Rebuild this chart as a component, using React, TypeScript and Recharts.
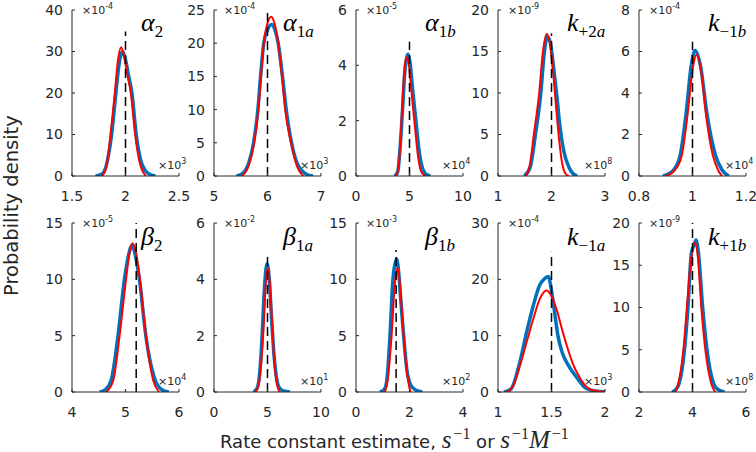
import { LineChart, Line, XAxis, YAxis } from 'recharts';

type Pt = [number, number];

// density curves, in axis units (x scaled by ×10^n, y by ×10^m)
const a2Blue: Pt[] = [[1.72, 0], [1.78, 0.5], [1.82, 2.5], [1.87, 10], [1.91, 20], [1.94, 27], [1.97, 30], [2.0, 28], [2.03, 24], [2.06, 20], [2.1, 10], [2.14, 4], [2.18, 1.5], [2.22, 0.5], [2.28, 0]];
const a2Red: Pt[] = [[1.78, 0], [1.82, 2], [1.86, 10], [1.9, 20], [1.93, 28], [1.96, 31], [1.99, 28.5], [2.02, 24], [2.05, 20], [2.09, 10], [2.13, 3.5], [2.19, 0]];

const a1aBlue: Pt[] = [[5.42, 0], [5.55, 0.5], [5.65, 2], [5.74, 5], [5.82, 10], [5.87, 15], [5.93, 20], [6.0, 22], [6.08, 22.8], [6.14, 22], [6.2, 20], [6.28, 15], [6.35, 10], [6.45, 5], [6.55, 2], [6.7, 0.4], [6.85, 0]];
const a1aRed: Pt[] = [[5.52, 0], [5.62, 1], [5.75, 5], [5.83, 10], [5.88, 15], [5.93, 20], [6.0, 23], [6.07, 24], [6.13, 23], [6.2, 20], [6.27, 15], [6.33, 10], [6.44, 5], [6.55, 1.5], [6.67, 0]];

const a1bBlue: Pt[] = [[3.6, 0], [3.9, 0.15], [4.1, 0.9], [4.32, 2.2], [4.55, 3.7], [4.75, 4.3], [4.87, 4.4], [5.05, 4.1], [5.3, 3.1], [5.6, 2], [5.9, 0.9], [6.2, 0.3], [6.5, 0.08], [6.95, 0]];
const a1bRed: Pt[] = [[3.75, 0], [4.0, 0.4], [4.2, 1.6], [4.4, 3.1], [4.6, 4.1], [4.77, 4.3], [4.95, 4.0], [5.2, 3.0], [5.5, 1.8], [5.8, 0.7], [6.1, 0.15], [6.5, 0]];

const kp2aBlue: Pt[] = [[1.49, 0], [1.6, 1], [1.7, 5], [1.8, 10], [1.86, 14.5], [1.92, 16.8], [1.98, 16], [2.04, 13], [2.11, 9], [2.14, 7], [2.23, 3], [2.33, 1], [2.4, 0.3], [2.48, 0]];
const kp2aRed: Pt[] = [[1.52, 0], [1.6, 1.5], [1.67, 5], [1.77, 10], [1.84, 15], [1.91, 17.1], [1.97, 16], [2.03, 12.5], [2.09, 8], [2.14, 4.5], [2.2, 1.5], [2.26, 0.3], [2.32, 0]];

const km1bBlue: Pt[] = [[0.89, 0], [0.93, 0.3], [0.954, 1], [0.976, 3], [0.995, 5.3], [1.01, 6.05], [1.03, 5.3], [1.054, 3], [1.086, 1], [1.11, 0.3], [1.136, 0]];
const km1bRed: Pt[] = [[0.9, 0], [0.935, 0.3], [0.96, 1], [0.982, 3], [1.0, 5.1], [1.016, 5.85], [1.033, 5.0], [1.05, 3], [1.076, 1], [1.095, 0.3], [1.11, 0]];

const b2Blue: Pt[] = [[4.52, 0], [4.62, 0.2], [4.73, 1], [4.86, 5], [4.98, 10], [5.05, 12], [5.12, 13], [5.19, 12], [5.26, 10], [5.38, 5], [5.56, 1], [5.68, 0.2], [5.81, 0]];
const b2Red: Pt[] = [[4.64, 0], [4.77, 1], [4.89, 5], [5.01, 10], [5.08, 12.5], [5.13, 13.2], [5.2, 12.3], [5.27, 10], [5.38, 5], [5.52, 1], [5.63, 0]];

const b1aBlue: Pt[] = [[3.7, 0], [4.05, 0.15], [4.3, 0.8], [4.5, 2], [4.7, 3.6], [4.95, 4.55], [5.15, 4.1], [5.35, 2.8], [5.55, 1.6], [5.8, 0.6], [6.1, 0.15], [6.5, 0.04], [7.1, 0]];
const b1aRed: Pt[] = [[3.9, 0], [4.2, 0.3], [4.45, 1.2], [4.65, 2.4], [4.85, 3.9], [5.05, 4.4], [5.25, 3.7], [5.45, 2.3], [5.65, 1.0], [5.9, 0.25], [6.15, 0]];

const b1bBlue: Pt[] = [[0.89, 0], [1.05, 0.2], [1.15, 1], [1.27, 5], [1.38, 10], [1.45, 11.3], [1.52, 11.8], [1.6, 10.5], [1.68, 8], [1.78, 5], [1.9, 2], [2.05, 0.6], [2.25, 0.15], [2.48, 0]];
const b1bRed: Pt[] = [[1.08, 0], [1.18, 1], [1.33, 5], [1.45, 9.5], [1.56, 11], [1.66, 9], [1.78, 5], [1.9, 1.8], [2.03, 0]];

const km1aBlue: Pt[] = [[1.055, 0], [1.12, 0.5], [1.2, 5], [1.26, 10], [1.325, 15], [1.39, 19], [1.43, 20], [1.47, 20.5], [1.5, 18], [1.53, 14], [1.56, 10], [1.6, 7], [1.65, 5], [1.7, 3.5], [1.75, 2.2], [1.8, 1], [1.87, 0.3], [2.0, 0]];
const km1aRed: Pt[] = [[1.08, 0], [1.14, 1], [1.21, 5], [1.27, 9], [1.33, 13], [1.39, 16.5], [1.455, 18], [1.5, 17], [1.55, 14.5], [1.6, 11], [1.65, 7.8], [1.7, 5], [1.75, 3], [1.8, 1.5], [1.87, 0.4], [2.0, 0]];

const kp1bBlue: Pt[] = [[3.23, 0], [3.38, 0.3], [3.5, 1], [3.7, 5], [3.83, 10], [3.96, 16.5], [4.05, 17.3], [4.13, 18], [4.22, 16.5], [4.38, 10], [4.54, 5], [4.79, 1], [4.95, 0.3], [5.2, 0]];
const kp1bRed: Pt[] = [[3.36, 0], [3.47, 1], [3.66, 5], [3.79, 10], [3.92, 15], [4.1, 17.7], [4.2, 16], [4.33, 10], [4.48, 5], [4.7, 1], [4.85, 0]];

// true value (dashed line) and the height it reaches
const truths: Pt[] = [[2, 34.8], [6, 25], [5, 4.85], [2, 17.2], [1, 6.47], [5.2, 15], [5, 4.79], [1.5, 12.6], [1.5, 24.9], [4, 20]];

const xTicks = [[1.5, 2, 2.5], [5, 6, 7], [0, 5, 10], [1, 2, 3], [0.8, 1, 1.2], [4, 5, 6], [0, 5, 10], [0, 2, 4], [1, 1.5, 2], [2, 4, 6]];
const yTicks = [[0, 10, 20, 30, 40], [0, 5, 10, 15, 20, 25], [0, 2, 4, 6], [0, 5, 10, 15, 20], [0, 2, 4, 6, 8], [0, 5, 10, 15], [0, 2, 4, 6], [0, 5, 10, 15], [0, 10, 20, 30], [0, 5, 10, 15, 20]];
const yExps = ['-4', '-4', '-5', '-9', '-4', '-5', '-2', '-3', '-4', '-9'];
const xExps = ['3', '3', '4', '8', '4', '4', '1', '2', '3', '8'];
const symbols = ['α', 'α', 'α', 'k', 'k', 'β', 'β', 'β', 'k', 'k'];
const subs = ['2', '1a', '1b', '+2a', '−1b', '2', '1a', '1b', '−1a', '+1b'];
const blues = [a2Blue, a1aBlue, a1bBlue, kp2aBlue, km1bBlue, b2Blue, b1aBlue, b1bBlue, km1aBlue, kp1bBlue];
const reds = [a2Red, a1aRed, a1bRed, kp2aRed, km1bRed, b2Red, b1aRed, b1bRed, km1aRed, kp1bRed];

const COL_X = [72, 214, 356, 498, 639];
const ROWS = [{ top: 10, h: 166, base: 32 }, { top: 223, h: 169, base: 246 }];
const PLOT_W = 107;
const PAD = 12;
const INK = '#262626';
const SANS = '"DejaVu Sans", sans-serif';
const SERIF = '"Liberation Serif", serif';

const toXY = (pts: Pt[]) => pts.map(([x, y]) => ({ x, y }));

const Sub = ({ text }: { text: string }) => (
  <span style={{ fontSize: 17, position: 'relative', top: 6 }}>
    {text.split('').map((c, i) => (
      <span key={i} style={{ fontStyle: /[a-z]/.test(c) ? 'italic' : 'normal' }}>{c}</span>
    ))}
  </span>
);

const Exp = ({ left, top, exp }: { left: number; top: number; exp: string }) => (
  <div style={{ position: 'absolute', left, top, fontFamily: SANS, fontSize: 11, lineHeight: '11px', color: INK, whiteSpace: 'nowrap' }}>
    ×10<span style={{ fontSize: 8, position: 'relative', top: -5 }}>{exp}</span>
  </div>
);

const Panel = ({ i }: { i: number }) => {
  const col = i % 5;
  const row = ROWS[Math.floor(i / 5)];
  const left = COL_X[col];
  const xt = xTicks[i];
  const yt = yTicks[i];
  const [tx, ttop] = truths[i];
  const tick = { fontSize: 14, fill: INK, fontFamily: SANS };
  return (
    <>
      <div style={{ position: 'absolute', left: left - 40, top: row.top - PAD }}>
        <LineChart width={40 + PLOT_W + 12} height={PAD + row.h + 30} margin={{ top: PAD, right: 12, left: 0, bottom: 0 }}>
          <XAxis
            type="number" dataKey="x" domain={[xt[0], xt[xt.length - 1]]} ticks={xt} interval={0}
            height={30} tick={tick} tickSize={-3} tickMargin={18}
            axisLine={{ stroke: INK }} tickLine={{ stroke: INK }} allowDataOverflow
          />
          <YAxis
            type="number" domain={[0, yt[yt.length - 1]]} ticks={yt} interval={0}
            width={40} tick={tick} tickSize={-3} tickMargin={12}
            axisLine={{ stroke: INK }} tickLine={{ stroke: INK }} allowDataOverflow
          />
          <Line data={toXY(blues[i])} dataKey="y" type="monotone" stroke="#0072BD" strokeWidth={3.5} dot={false} isAnimationActive={false} />
          <Line data={toXY(reds[i])} dataKey="y" type="monotone" stroke="#FF0000" strokeWidth={2} dot={false} isAnimationActive={false} />
          <Line data={[{ x: tx, y: 0 }, { x: tx, y: ttop }]} dataKey="y" type="linear" stroke="#000" strokeWidth={1.5} strokeDasharray="9 5" dot={false} isAnimationActive={false} />
        </LineChart>
      </div>
      <Exp left={left + 10} top={row.top - 5} exp={yExps[i]} />
      <Exp left={left + 86} top={row.top + row.h - 16} exp={xExps[i]} />
      <div style={{ position: 'absolute', left: left + 69, top: row.base - 22, fontFamily: SERIF, fontStyle: 'italic', fontSize: 26, lineHeight: '26px', color: '#000', whiteSpace: 'nowrap' }}>
        {symbols[i]}<Sub text={subs[i]} />
      </div>
    </>
  );
};

const M = ({ children }: { children: string }) => (
  <span style={{ fontFamily: SERIF, fontStyle: 'italic', fontSize: 25 }}>{children}</span>
);
const Sup = ({ children }: { children: string }) => (
  <span style={{ fontFamily: SERIF, fontSize: 16, position: 'relative', top: -9, marginLeft: 2 }}>{children}</span>
);

export default function App() {
  return (
    <div style={{ position: 'absolute', left: 0, top: 0, width: 756, height: 452, background: '#fff', overflow: 'hidden' }}>
      {blues.map((_, i) => <Panel key={i} i={i} />)}
      <div style={{ position: 'absolute', left: 0, top: 86, width: 23, height: 240, lineHeight: '23px', textAlign: 'center', writingMode: 'vertical-rl', transform: 'rotate(180deg)', fontFamily: SANS, fontSize: 19.5, color: INK, whiteSpace: 'nowrap' }}>
        Probability density
      </div>
      <div style={{ position: 'absolute', left: 220, top: 431, fontFamily: SANS, fontSize: 18, lineHeight: '18px', color: INK, whiteSpace: 'nowrap' }}>
        Rate constant estimate, <M>s</M><Sup>−1</Sup> or <M>s</M><Sup>−1</Sup><M>M</M><Sup>−1</Sup>
      </div>
    </div>
  );
}
